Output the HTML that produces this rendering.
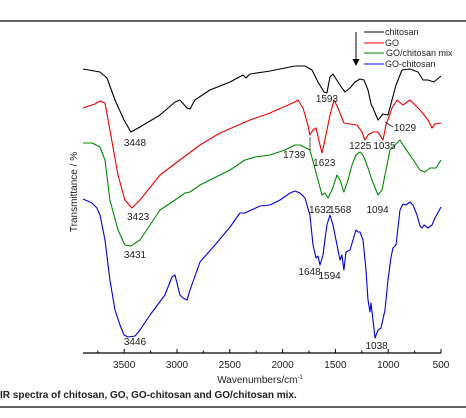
<!DOCTYPE html>
<html><head><meta charset="utf-8"><style>
html,body{margin:0;padding:0;background:#fff;}
svg{display:block;font-family:"Liberation Sans",sans-serif;}
</style></head><body>
<svg id="chart" width="466" height="418" viewBox="0 0 466 418" xmlns="http://www.w3.org/2000/svg">
<line x1="0" y1="21" x2="466" y2="21" stroke="#333" stroke-width="1.5"/>
<line x1="0" y1="407" x2="466" y2="407" stroke="#333" stroke-width="1.5"/>
<g id="plot"></g>
<text transform="translate(77,192) rotate(-90)" text-anchor="middle" font-size="10" fill="#222">Transmittance / %</text>
<text x="260" y="383" text-anchor="middle" font-size="10" fill="#222">Wavenumbers/cm<tspan font-size="6" dy="-4">-1</tspan></text>
<text x="0" y="398" font-size="10" font-weight="bold" fill="#222">IR spectra of chitosan, GO, GO-chitosan and GO/chitosan mix.</text>
<g font-size="9" fill="#222">
<line x1="356" y1="32" x2="356" y2="60" stroke="#000" stroke-width="1"/>
<polygon points="352.5,59 359.5,59 356,66" fill="#000"/>
<g><line x1="364" y1="32" x2="384" y2="32" stroke="#000"/><text x="385" y="35">chitosan</text></g>
<g><line x1="364" y1="43" x2="384" y2="43" stroke="#e00"/><text x="385" y="46">GO</text></g>
<g><line x1="364" y1="53" x2="384" y2="53" stroke="#080"/><text x="386" y="56">GO/chitosan mix</text></g>
<g><line x1="364" y1="64" x2="384" y2="64" stroke="#00d"/><text x="385" y="67">GO-chitosan</text></g>
</g>
</svg>
<script>
const ticksMajor=[3500,3000,2500,2000,1500,1000,500];
const ticksMinor=[3750,3250,2750,2250,1750,1250,750];
const wnChitosan=[3890,3729,3663,3587,3502,3436,3350,3161,3019,2972,2905,2877,2830,2688,2498,2375,2347,2309,2119,1883,1788,1722,1665,1608,1580,1551,1523,1475,1438,1409,1362,1314,1267,1229,1191,1163,1144,1097,1049,1002,964,926,869,794,718,670,623,566,500];
const tChitosan=[284,281,275,253,233,221,226,238,251,253,245,244,253,263,271,278,275,279,282,287,287,283,271,261,260,276,279,271,265,261,265,271,274,273,263,249,245,233,239,238,253,268,283,284,281,273,273,271,277];
const wnGO=[3890,3777,3729,3682,3635,3559,3493,3426,3350,3161,2972,2782,2593,2309,2119,1883,1854,1807,1760,1741,1712,1684,1646,1627,1599,1551,1513,1475,1419,1362,1295,1248,1220,1191,1144,1097,1049,1021,964,917,860,794,699,623,585,557,500];
const tGO=[245,249,252,250,223,178,153,145,153,178,193,208,220,233,240,251,253,245,228,218,223,225,208,200,213,238,253,245,230,229,228,221,213,218,221,221,213,228,245,253,248,253,243,233,225,229,230];
const wnMix=[3890,3805,3729,3682,3635,3559,3493,3436,3350,3256,3161,3019,2924,2877,2782,2498,2356,2261,2119,1977,1883,1835,1778,1741,1703,1665,1627,1599,1570,1532,1485,1456,1419,1381,1343,1305,1267,1239,1201,1153,1097,1059,1021,983,936,888,860,794,699,652,604,547,500];
const tMix=[210,210,206,193,153,123,108,107,113,128,143,153,160,161,168,183,193,196,198,203,208,208,205,203,188,173,158,160,155,163,178,173,161,173,188,198,201,198,188,173,158,163,183,203,208,213,208,198,183,181,185,185,193];
const wnBlue=[3890,3805,3758,3729,3682,3635,3587,3540,3502,3464,3398,3350,3256,3114,3047,3019,2972,2943,2905,2877,2782,2640,2498,2403,2356,2214,2119,2025,1930,1883,1835,1788,1741,1712,1684,1665,1646,1617,1580,1551,1523,1494,1475,1456,1438,1419,1400,1362,1333,1305,1286,1267,1239,1210,1191,1172,1163,1144,1125,1097,1068,1030,1002,974,955,926,888,860,831,794,765,727,699,680,661,623,585,557,500];
const tBlue=[154,150,145,138,113,73,43,28,18,16,17,23,38,58,76,78,58,55,53,63,91,108,126,140,140,147,148,153,160,162,160,155,138,108,95,97,88,98,128,138,128,113,103,93,98,83,101,103,113,123,121,121,113,83,53,41,50,33,15,23,25,43,73,95,105,108,143,149,148,151,148,138,127,125,128,125,128,135,146];
const labelText=["3448","1593","1029","1225","1035","1739","1623","3423","1632","1568","1094","3431","1648","1594","3446","1038"];
const labelWn=[3398,1580,841,1265,1035,1890,1605,3368,1645,1455,1100,3398,1745,1555,3398,1110];
const labelT=[207,251,222,204,204,195,187,133,140,140,140,95,78,74,8,4];

const X0=83,X1=441,WN0=3890,WN1=500;
function xScale(w){return X0+(WN0-w)*(X1-X0)/(WN0-WN1);}
function yScale(t){return 353-t;}
const NS="http://www.w3.org/2000/svg";
const plot=document.getElementById('plot');
function mk(tag,attrs){const e=document.createElementNS(NS,tag);for(const k in attrs)e.setAttribute(k,attrs[k]);plot.appendChild(e);return e;}

const axis=mk('line',{x1:X0,y1:353,x2:X1,y2:353,stroke:'#000','stroke-width':1.2});


ticksMajor.forEach(v=>{
  const t=mk('line',{x1:xScale(v),y1:353,x2:xScale(v),y2:349,stroke:'#000'});
  
  
  const l=mk('text',{x:xScale(v),y:368,'text-anchor':'middle','font-size':'10',fill:'#222'});
  l.textContent=v;
  
  
});
ticksMinor.forEach(v=>{
  const t=mk('line',{x1:xScale(v),y1:353,x2:xScale(v),y2:350.5,stroke:'#000'});
  
  
});
function series(wn,t,color,name){
  const d=wn.map((w,i)=>(i?'L':'M')+xScale(w).toFixed(1)+','+yScale(t[i]).toFixed(1)).join('');
  const p=mk('path',{d:d,fill:'none',stroke:color,'stroke-width':1.1,'stroke-linejoin':'round'});
  
  
}
series(wnChitosan,tChitosan,'#000','series-chitosan');
series(wnGO,tGO,'#e00','series-go');
series(wnMix,tMix,'#080','series-go-chitosan-mix');
series(wnBlue,tBlue,'#00d','series-go-chitosan');
labelText.forEach((s,i)=>{
  const l=mk('text',{x:xScale(labelWn[i]),y:yScale(labelT[i]),'text-anchor':'middle','font-size':'10',fill:'#222'});
  l.textContent=s;
  
  
});
const c1=mk('line',{x1:385,y1:122,x2:393,y2:127,stroke:'#222','stroke-width':0.8});


const c2=mk('line',{x1:310,y1:137,x2:310,y2:150,stroke:'#222','stroke-width':0.8});


</script>
</body></html>
